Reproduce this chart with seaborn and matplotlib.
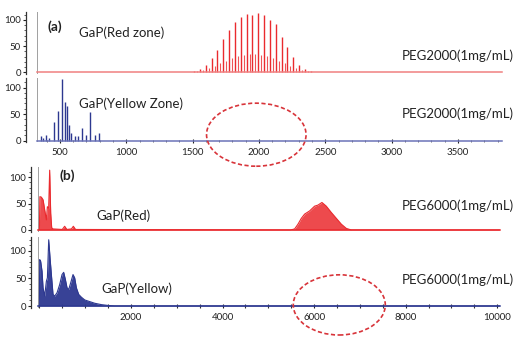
import matplotlib
matplotlib.use("Agg")
import matplotlib.pyplot as plt
from matplotlib.patches import Ellipse
from matplotlib.ticker import MultipleLocator, FixedLocator
import seaborn as sns
import pandas as pd

# ---- data ----
# (a) red zone, PEG2000 : main series (44 Da spacing) and adduct series
peg2k_mz = [1511, 1555, 1599, 1643, 1687, 1731, 1775, 1819, 1863, 1907, 1951,
            1995, 2039, 2083, 2127, 2171, 2215, 2259, 2303, 2347, 2391]
peg2k_int = [3, 7, 15, 28, 42, 64, 80, 96, 105, 111, 110,
             114, 110, 100, 92, 68, 48, 29, 15, 7, 2]
peg2k_adduct_mz = [1533, 1577, 1621, 1665, 1709, 1753, 1797, 1841, 1885, 1929, 1973,
                   2017, 2061, 2105, 2149, 2193, 2237, 2281, 2325, 2369]
peg2k_adduct_int = [2, 4, 8, 12, 17, 22, 27, 31, 34, 35, 36,
                    34, 31, 27, 22, 17, 12, 8, 5, 2]

# (a) yellow zone, PEG2000
yel_a_mz = [357, 373, 398, 415, 452, 482, 515, 535, 550, 565, 585,
            610, 635, 665, 695, 728, 765, 795]
yel_a_int = [8, 5, 10, 5, 35, 56, 116, 73, 66, 29, 14,
             8, 8, 24, 10, 54, 10, 15]

# (b) red, PEG6000 (profile)
red_b_mz = [0, 11, 44, 81, 116, 153, 175, 203, 225, 247, 269, 300, 500, 552,
            600, 700, 742, 790, 5487, 5575, 5648, 5721, 5793, 5902, 6011,
            6084, 6171, 6266, 6376, 6485, 6594, 6703, 6812, 10050]
red_b_int = [0, 63, 62, 57, 38, 19, 44, 41, 113, 32, 4, 2, 1, 7,
             1, 2, 7, 1, 0, 2, 11, 22, 30, 36, 45,
             47, 52, 45, 33, 22, 11, 3, 0, 0]

# (b) yellow, PEG6000 (profile)
yel_b_mz = [0, 7, 28, 58, 80, 116, 153, 175, 204, 233, 262, 298, 335, 386,
            444, 495, 531, 568, 604, 641, 684, 735, 771, 808, 859, 917,
            990, 1099, 1208, 1354, 1500, 1645, 10050]
yel_b_int = [0, 84, 81, 63, 33, 18, 45, 51, 120, 87, 57, 21, 18, 24,
             39, 57, 61, 48, 33, 30, 42, 57, 51, 33, 21, 16,
             11, 8, 5, 2.5, 1, 0, 0]

RED = "#ea2a2e"
BLUE = "#2d3890"
W, H = 517, 341

sns.set_style("ticks")
plt.rcParams["font.family"] = ["Lato", "DejaVu Sans"]

fig = plt.figure(figsize=(W / 100, H / 100), dpi=100)


def make_ax(left, right, top, bottom, xlim, ylim, color, spine_off):
    ax = fig.add_axes([left / W, 1 - bottom / H, (right - left) / W, (bottom - top) / H])
    ax.set_xlim(*xlim)
    ax.set_ylim(*ylim)
    ax.patch.set_alpha(0)
    sns.despine(ax=ax, top=True, right=True)
    ax.spines["left"].set_position(("outward", spine_off))
    ax.spines["left"].set_color("#333333")
    ax.spines["left"].set_linewidth(0.9)
    ax.spines["bottom"].set_position(("data", 0))
    ax.spines["bottom"].set_color(color)
    ax.spines["bottom"].set_linewidth(1.1)
    ax.yaxis.set_major_locator(FixedLocator([0, 50, 100]))
    ax.yaxis.set_minor_locator(MultipleLocator(10))
    ax.tick_params(axis="y", which="major", length=2.5, width=0.8, labelsize=7,
                   pad=1, colors="#222222")
    ax.tick_params(axis="y", which="minor", length=1.2, width=0.6, colors="#444444")
    ax.axvline(xlim[0], color="#a0a0a0", lw=1.4, zorder=1)
    return ax


def label(x, y, s, **kw):
    fig.text(x / W, 1 - y / H, s, va="center", color="#222222", **kw)


# panel (a) top
ax1 = make_ax(37, 502, 12, 74, (327, 3832), (-3, 115), "#f08080", 8)
ax1.vlines(peg2k_adduct_mz, 0, peg2k_adduct_int, color=RED, lw=0.8, alpha=0.8)
ax1.vlines(peg2k_mz, 0, peg2k_int, color=RED, lw=1.0)
ax1.tick_params(axis="x", which="both", length=0, labelbottom=False)

# panel (a) bottom
ax2 = make_ax(37, 502, 78, 142, (327, 3832), (-2.8, 118), "#6b73b8", 8)
ax2.vlines(yel_a_mz, 0, yel_a_int, color=BLUE, lw=1.0)
ax2.xaxis.set_major_locator(MultipleLocator(500))
ax2.xaxis.set_minor_locator(MultipleLocator(100))
ax2.tick_params(axis="x", which="major", direction="inout", length=2.5, width=0.8,
                labelsize=7, pad=4, colors="#222222")
ax2.tick_params(axis="x", which="minor", direction="inout", length=1.5, width=0.6,
                colors="#555555")

# panel (b) top
ax3 = make_ax(38, 500, 167, 232, (-30, 10060), (-3.8, 119), RED, 5)
df_r = pd.DataFrame({"mz": red_b_mz, "int": red_b_int})
sns.lineplot(data=df_r, x="mz", y="int", ax=ax3, color=RED, lw=0.8, legend=False)
ax3.fill_between(df_r["mz"], 0, df_r["int"], color=RED, lw=0, alpha=0.85)
ax3.tick_params(axis="x", which="both", length=0, labelbottom=False)

# panel (b) bottom
ax4 = make_ax(38, 500, 237, 308, (-30, 10060), (-3.6, 125), BLUE, 5)
df_y = pd.DataFrame({"mz": yel_b_mz, "int": yel_b_int})
sns.lineplot(data=df_y, x="mz", y="int", ax=ax4, color=BLUE, lw=0.8, legend=False)
ax4.fill_between(df_y["mz"], 0, df_y["int"], color=BLUE, lw=0, alpha=0.95)
ax4.xaxis.set_major_locator(FixedLocator([2000, 4000, 6000, 8000, 10000]))
ax4.xaxis.set_minor_locator(MultipleLocator(500))
ax4.tick_params(axis="x", which="major", direction="inout", length=2.5, width=0.8,
                labelsize=7, pad=4, colors="#222222")
ax4.tick_params(axis="x", which="minor", direction="inout", length=2.5, width=0.8,
                colors="#333333")

for ax in (ax1, ax2, ax3, ax4):
    ax.set_xlabel("")
    ax.set_ylabel("")

# texts
label(47, 27, "(a)", fontsize=10, fontweight="bold")
label(79, 33, "GaP(Red zone)", fontsize=9.5)
label(514, 56, "PEG2000(1mg/mL)", fontsize=9.5, ha="right")
label(79, 104, "GaP(Yellow Zone)", fontsize=9.5)
label(514, 114, "PEG2000(1mg/mL)", fontsize=9.5, ha="right")
label(60, 176, "(b)", fontsize=10, fontweight="bold")
label(96, 216, "GaP(Red)", fontsize=9.5)
label(514, 206, "PEG6000(1mg/mL)", fontsize=9.5, ha="right")
label(101, 289, "GaP(Yellow)", fontsize=9.5)
label(514, 280, "PEG6000(1mg/mL)", fontsize=9.5, ha="right")

# dashed ellipses marking the missing PEG region
ax2.add_patch(Ellipse((1980, 11), 750, 119, fill=False, ec="#d8343a", lw=1.2,
                      ls=(0, (2.5, 1.5)), clip_on=False, zorder=5))
ax4.add_patch(Ellipse((6550, 2), 2010, 109, fill=False, ec="#d8343a", lw=1.2,
                      ls=(0, (2.5, 1.5)), clip_on=False, zorder=5))

fig.savefig("out.png", dpi=100)
